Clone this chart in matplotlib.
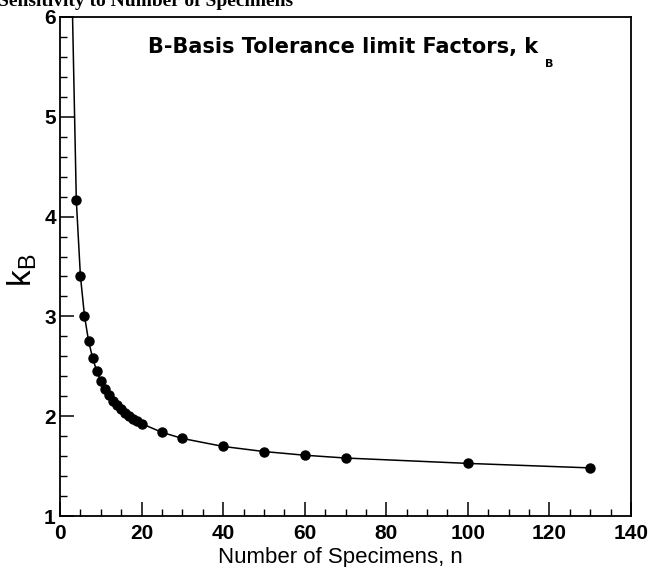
import numpy as np
import matplotlib
matplotlib.use("Agg")
import matplotlib.pyplot as plt
from matplotlib.ticker import MultipleLocator

# B-basis tolerance limit factors
n_specimens = [3, 4, 5, 6, 7, 8, 9, 10, 11, 12, 13, 14, 15, 16, 17, 18, 19, 20,
               25, 30, 40, 50, 60, 70, 100, 130]
k_b = [6.157, 4.163, 3.407, 3.006, 2.755, 2.582, 2.454, 2.355, 2.275, 2.210,
       2.155, 2.109, 2.068, 2.033, 2.002, 1.974, 1.949, 1.926,
       1.838, 1.777, 1.697, 1.646, 1.609, 1.581, 1.527, 1.482]
# n = 3 lies above the plot; the curve runs through it but no marker is shown
marker_start = 1

x_ticks = [0, 20, 40, 60, 80, 100, 120, 140]
y_ticks = [1, 2, 3, 4, 5, 6]

W, H = 655, 567
fig = plt.figure(figsize=(W / 100, H / 100), dpi=100)
ax = fig.add_axes([60 / W, 1 - 516 / H, (631 - 60) / W, (516 - 17) / H])

ax.plot(n_specimens, k_b, color="black", lw=1.1, zorder=2)
ax.plot(n_specimens[marker_start:], k_b[marker_start:], "o", color="black",
        ms=6.5, zorder=3)

ax.set_xlim(0, 140)
ax.set_ylim(1, 6)
ax.set_xticks(x_ticks)
ax.set_yticks(y_ticks)
ax.xaxis.set_minor_locator(MultipleLocator(5))
ax.yaxis.set_minor_locator(MultipleLocator(0.2))
ax.tick_params(which="major", direction="in", length=10, width=1.1,
               labelsize=15, pad=6)
ax.tick_params(which="minor", direction="in", length=5, width=1.0)
ax.tick_params(axis="y", pad=3)
for lab in ax.get_xticklabels() + ax.get_yticklabels():
    lab.set_family("Liberation Sans")
    lab.set_fontweight("bold")
for sp in ax.spines.values():
    sp.set_linewidth(1.3)

# title inside the axes, with a detached subscript B
t = ax.text((148 - 60) / 571, (516 - 53) / 499,
            "B-Basis Tolerance limit Factors, k", transform=ax.transAxes,
            family="DejaVu Sans", weight="bold", fontsize=15,
            va="baseline", ha="left")
ax.annotate("B", xy=(1, 0), xycoords=t, xytext=(5, -7),
            textcoords="offset points", family="DejaVu Sans",
            weight="bold", fontsize=8, va="baseline", ha="left")

# axis labels
fig.text(340 / W, 1 - 558 / H, "Number of Specimens, n",
         family="Liberation Sans", fontsize=16, ha="center", va="center")
fig.text(22 / W, 1 - 270 / H, r"k$_\mathregular{B}$", rotation=90,
         family="Liberation Sans", fontsize=24, ha="center", va="center")

# page heading, clipped by the top edge of the scan
fig.text(-2 / W, 1 - 6 / H, "Sensitivity to Number of Specimens",
         family="Liberation Serif", weight="bold", fontsize=14,
         ha="left", va="baseline")

fig.savefig("out.png", dpi=100)
